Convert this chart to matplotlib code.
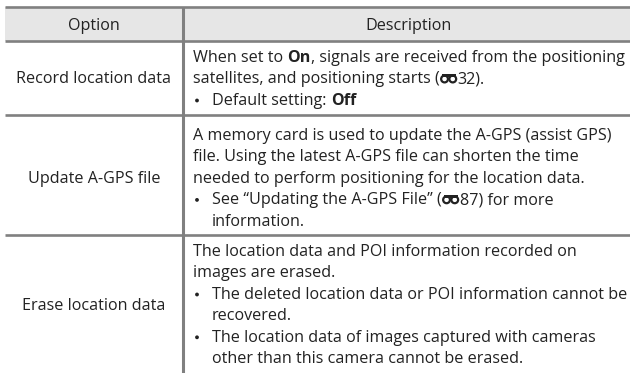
import matplotlib
matplotlib.use("Agg")
import matplotlib.pyplot as plt
from matplotlib.patches import Rectangle, Circle

W, H = 630, 373

headers = ["Option", "Description"]
options = ["Record location data", "Update A-GPS file", "Erase location data"]

# line kinds: 0 = plain, 1 = bullet, 2 = bullet continuation
# segment styles: "n" normal, "b" bold, "icon" reference icon
descriptions = [
    [
        (0, [("When set to ", "n"), ("On", "b"), (", signals are received from the positioning", "n")]),
        (0, [("satellites, and positioning starts (", "n"), ("", "icon"), ("32).", "n")]),
        (1, [("Default setting: ", "n"), ("Off", "b")]),
    ],
    [
        (0, [("A memory card is used to update the A-GPS (assist GPS)", "n")]),
        (0, [("file. Using the latest A-GPS file can shorten the time", "n")]),
        (0, [("needed to perform positioning for the location data.", "n")]),
        (1, [("See \u201cUpdating the A-GPS File\u201d (", "n"), ("", "icon"), ("87) for more", "n")]),
        (2, [("information.", "n")]),
    ],
    [
        (0, [("The location data and POI information recorded on", "n")]),
        (0, [("images are erased.", "n")]),
        (1, [("The deleted location data or POI information cannot be", "n")]),
        (2, [("recovered.", "n")]),
        (1, [("The location data of images captured with cameras", "n")]),
        (2, [("other than this camera cannot be erased.", "n")]),
    ],
]

FONT = "Open Sans"
FS = 11.6
TXT = "#222222"
LINE = "#808080"

fig = plt.figure(figsize=(W / 100, H / 100), dpi=100)
ax = fig.add_axes([0, 0, 1, 1])
ax.set_xlim(0, W)
ax.set_ylim(H, 0)
ax.axis("off")
renderer = fig.canvas.get_renderer()

left, div, right = 5, 183, W
head_top, head_bot = 7, 41
row_tops = [41, 115, 235]
first_base = [62, 140, 256]
step = 21.4


def width(s, weight):
    # measure advance width incl. trailing spaces using a sentinel glyph
    t1 = ax.text(0, 0, s + "l", family=FONT, fontsize=FS, fontweight=weight)
    t2 = ax.text(0, 0, "l", family=FONT, fontsize=FS, fontweight=weight)
    w = t1.get_window_extent(renderer).width - t2.get_window_extent(renderer).width
    t1.remove()
    t2.remove()
    return w


def draw_icon(x, base):
    cy = base - 4.4
    for cx in (x + 4.8, x + 13.0):
        ax.add_patch(Circle((cx, cy), 3.4, fill=False, ec=TXT, lw=1.6))
    ax.add_patch(Rectangle((x + 2.0, base - 9.3), 14.0, 2.8, color=TXT, lw=0))
    return 18.0


# header band and grid lines
ax.add_patch(Rectangle((left, head_top), right - left, head_bot - head_top,
                       color="#e6e6e6", lw=0, zorder=0))
for y in [head_top, head_bot] + row_tops[1:]:
    ax.plot([left, right], [y, y], color=LINE, lw=1.9, solid_capstyle="butt")
ax.plot([div, div], [head_top, H], color=LINE, lw=2.2, solid_capstyle="butt")

ax.text((left + div) / 2, 29.5, headers[0], family=FONT, fontsize=FS,
        color=TXT, ha="center", va="baseline")
ax.text((div + right) / 2 + 2, 29.5, headers[1], family=FONT, fontsize=FS,
        color=TXT, ha="center", va="baseline")

x0, xb, xi = 193, 197, 212
for r, opt in enumerate(options):
    lines = descriptions[r]
    mid = first_base[r] + step * (len(lines) - 1) / 2
    ax.text((left + div) / 2, mid, opt, family=FONT, fontsize=FS,
            color=TXT, ha="center", va="baseline")
    for i, (kind, segs) in enumerate(lines):
        base = first_base[r] + i * step
        x = x0 if kind == 0 else xi
        if kind == 1:
            ax.add_patch(Circle((xb, base - 4.3), 1.9, color=TXT, lw=0))
        for s, style in segs:
            if style == "icon":
                x += draw_icon(x, base)
                continue
            wt = "bold" if style == "b" else "normal"
            ax.text(x, base, s, family=FONT, fontsize=FS, fontweight=wt,
                    color=TXT, va="baseline")
            x += width(s, wt)

fig.savefig("out.png", dpi=100)
